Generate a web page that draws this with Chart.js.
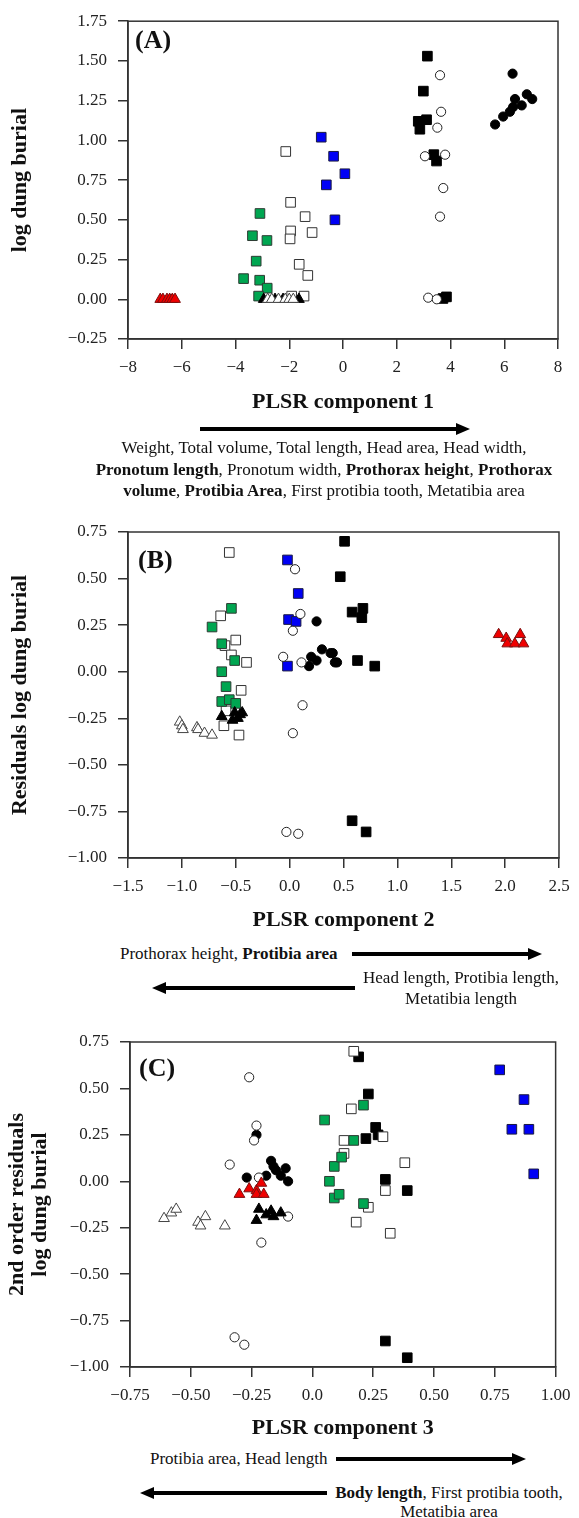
<!DOCTYPE html>
<html>
<head>
<meta charset="utf-8">
<script src="https://cdn.jsdelivr.net/npm/chart.js@4.4.1/dist/chart.umd.min.js"></script>
<style>
  body{margin:0;background:#fff;width:579px;height:1518px;position:relative;overflow:hidden;font-family:'Liberation Serif','Times New Roman',serif;color:#111}
  canvas{position:absolute;left:0}
  .t{position:absolute;font-size:17px;line-height:21.5px;white-space:nowrap}
  .lab{position:absolute;font-size:26px;font-weight:bold;line-height:30px;color:#111}
  svg{position:absolute;left:0;top:0}
</style>
</head>
<body>
<canvas id="cA" width="579" height="420" style="top:0"></canvas>
<canvas id="cB" width="579" height="440" style="top:500px"></canvas>
<canvas id="cC" width="579" height="440" style="top:1005px"></canvas>

<div class="lab" style="left:135px;top:25px">(A)</div>
<div class="lab" style="left:138px;top:545px">(B)</div>
<div class="lab" style="left:139px;top:1053px">(C)</div>

<div class="t" style="left:64px;width:520px;top:437px;text-align:center">
Weight, Total volume, Total length, Head area, Head width,<br>
<b>Pronotum length</b>, Pronotum width, <b>Prothorax height</b>, <b>Prothorax</b><br>
<b>volume</b>, <b>Protibia Area</b>, First protibia tooth, Metatibia area
</div>

<div class="t" style="left:120px;top:943px">Prothorax height, <b>Protibia area</b></div>
<div class="t" style="left:341px;width:240px;top:967px;line-height:21px;text-align:center">Head length, Protibia length,<br>Metatibia length</div>

<div class="t" style="left:150px;top:1448px">Protibia area, Head length</div>
<div class="t" style="left:329px;width:240px;top:1483px;line-height:19px;text-align:center"><b>Body length</b>, First protibia tooth,<br>Metatibia area</div>

<svg id="arrows" width="579" height="1518"></svg>

<script>
// ---- data: [x, y] pairs ----
// panel A: PLSR component 1 vs log dung burial
const A_blackSquares = [[3.14,1.53],[2.99,1.31],[2.80,1.12],[3.11,1.13],[2.86,1.07],[3.38,0.91],[3.48,0.87],[3.85,0.015],[3.72,0.005]];
const A_openSquares  = [[-2.13,0.93],[-1.95,0.61],[-1.41,0.52],[-1.95,0.43],[-1.15,0.42],[-1.97,0.38],[-1.63,0.22],[-1.31,0.15],[-1.91,0.02],[-1.45,0.02]];
const A_greenSquares = [[-3.09,0.54],[-3.37,0.40],[-2.83,0.37],[-3.23,0.24],[-3.70,0.13],[-3.10,0.12],[-2.82,0.07],[-3.14,0.02]];
const A_blueSquares  = [[-0.81,1.02],[-0.35,0.90],[-0.62,0.72],[0.07,0.79],[-0.30,0.50]];
const A_blackCircles = [[6.31,1.42],[5.66,1.10],[5.96,1.15],[6.21,1.18],[6.33,1.21],[6.40,1.26],[6.65,1.22],[6.84,1.29],[7.04,1.26]];
const A_openCircles  = [[3.61,1.41],[3.65,1.18],[3.51,1.08],[3.05,0.90],[3.80,0.91],[3.73,0.70],[3.61,0.52],[3.17,0.01],[3.49,0.0]];
const A_redTriangles = [[-6.8,0],[-6.7,0],[-6.55,0],[-6.45,0],[-6.35,0],[-6.25,0]];
const A_blackTriangles = [[-2.95,0],[-2.53,0],[-2.23,0],[-1.64,0]];
const A_openTriangles  = [[-2.8,0],[-2.65,0],[-2.4,0],[-2.15,0],[-2.0,0],[-1.85,0]];

// panel B: PLSR component 2 vs residuals
const B_blackSquares = [[0.51,0.70],[0.47,0.51],[0.58,0.32],[0.68,0.34],[0.67,0.29],[0.63,0.06],[0.79,0.03],[0.58,-0.80],[0.71,-0.86]];
const B_openSquares  = [[-0.56,0.64],[-0.64,0.30],[-0.60,0.14],[-0.50,0.17],[-0.54,0.09],[-0.40,0.05],[-0.45,-0.10],[-0.59,-0.21],[-0.61,-0.29],[-0.47,-0.34]];
const B_greenSquares = [[-0.54,0.34],[-0.72,0.24],[-0.63,0.15],[-0.51,0.06],[-0.63,0.00],[-0.59,-0.08],[-0.63,-0.16],[-0.56,-0.15],[-0.50,-0.17]];
const B_blueSquares  = [[-0.02,0.60],[0.08,0.42],[-0.01,0.28],[0.06,0.27],[-0.02,0.03]];
const B_blackCircles = [[0.25,0.27],[0.20,0.08],[0.30,0.12],[0.38,0.10],[0.42,0.05],[0.18,0.03],[0.25,0.06],[0.44,0.05],[0.40,0.10]];
const B_openCircles  = [[0.05,0.55],[0.10,0.31],[0.03,0.22],[-0.06,0.08],[0.11,0.05],[0.12,-0.18],[0.03,-0.33],[-0.03,-0.86],[0.08,-0.87]];
const B_redTriangles = [[1.94,0.20],[2.01,0.18],[2.02,0.15],[2.09,0.15],[2.14,0.20],[2.17,0.15]];
const B_blackTriangles = [[-0.63,-0.24],[-0.51,-0.22],[-0.44,-0.22],[-0.53,-0.26],[-0.48,-0.25],[-0.46,-0.23]];
const B_openTriangles  = [[-1.02,-0.27],[-1.00,-0.29],[-0.99,-0.31],[-0.86,-0.30],[-0.85,-0.31],[-0.79,-0.33],[-0.72,-0.34]];

// panel C: PLSR component 3 vs 2nd order residuals
const C_blackSquares = [[0.19,0.67],[0.23,0.47],[0.26,0.29],[0.27,0.25],[0.22,0.23],[0.30,0.01],[0.39,-0.05],[0.30,-0.86],[0.39,-0.95]];
const C_openSquares  = [[0.17,0.70],[0.16,0.39],[0.13,0.22],[0.13,0.15],[0.29,0.24],[0.38,0.10],[0.30,-0.05],[0.23,-0.14],[0.18,-0.22],[0.32,-0.28]];
const C_greenSquares = [[0.05,0.33],[0.07,0.00],[0.09,0.08],[0.09,-0.09],[0.11,-0.07],[0.12,0.13],[0.17,0.22],[0.21,0.41],[0.21,-0.12]];
const C_blueSquares  = [[0.77,0.60],[0.87,0.44],[0.82,0.28],[0.89,0.28],[0.91,0.04]];
const C_blackCircles = [[-0.23,0.25],[-0.27,0.02],[-0.17,0.11],[-0.16,0.08],[-0.19,0.03],[-0.15,0.06],[-0.13,0.03],[-0.11,0.07],[-0.10,0.00]];
const C_openCircles  = [[-0.26,0.56],[-0.23,0.30],[-0.24,0.22],[-0.34,0.09],[-0.22,0.02],[-0.10,-0.19],[-0.21,-0.33],[-0.32,-0.84],[-0.28,-0.88]];
const C_redTriangles = [[-0.30,-0.07],[-0.26,-0.04],[-0.23,-0.05],[-0.21,-0.01],[-0.23,-0.07],[-0.20,-0.07]];
const C_blackTriangles = [[-0.22,-0.15],[-0.23,-0.21],[-0.17,-0.16],[-0.16,-0.19],[-0.13,-0.17],[-0.19,-0.18]];
const C_openTriangles  = [[-0.61,-0.20],[-0.58,-0.17],[-0.56,-0.15],[-0.47,-0.22],[-0.46,-0.24],[-0.44,-0.19],[-0.36,-0.24]];

// tick values and labels
const A_xTicks = [-8,-6,-4,-2,0,2,4,6,8];
const A_xLabels = ['\u22128','\u22126','\u22124','\u22122','0','2','4','6','8'];
const A_yTicks = [-0.25,0,0.25,0.5,0.75,1,1.25,1.5,1.75];
const A_yLabels = ['\u22120.25','0.00','0.25','0.50','0.75','1.00','1.25','1.50','1.75'];
const B_xTicks = [-1.5,-1,-0.5,0,0.5,1,1.5,2,2.5];
const B_xLabels = ['\u22121.5','\u22121.0','\u22120.5','0.0','0.5','1.0','1.5','2.0','2.5'];
const BC_yTicks = [-1,-0.75,-0.5,-0.25,0,0.25,0.5,0.75];
const BC_yLabels = ['\u22121.00','\u22120.75','\u22120.50','\u22120.25','0.00','0.25','0.50','0.75'];
const C_xTicks = [-0.75,-0.5,-0.25,0,0.25,0.5,0.75,1];
const C_xLabels = ['\u22120.75','\u22120.50','\u22120.25','0.0','0.25','0.50','0.75','1.00'];

// marker styles per group (first = drawn on top)
const groupStyles = [
  {key:'openTriangles',  style:'triangle', bg:'#fff',    bd:'#444', r:6.2},
  {key:'blackTriangles', style:'triangle', bg:'#000',    bd:'#000', r:6.2},
  {key:'redTriangles',   style:'triangle', bg:'#f00000', bd:'#7a1010', r:6.2},
  {key:'openCircles',    style:'circle',   bg:'#fff',    bd:'#222', r:4.6},
  {key:'blackCircles',   style:'circle',   bg:'#000',    bd:'#000', r:4.6},
  {key:'blueSquares',    style:'rect',     bg:'#0000f5', bd:'#1a1a40', r:6.8},
  {key:'greenSquares',   style:'rect',     bg:'#00a651', bd:'#2d3b33', r:6.8},
  {key:'openSquares',    style:'rect',     bg:'#fff',    bd:'#333', r:6.8},
  {key:'blackSquares',   style:'rect',     bg:'#000',    bd:'#000', r:6.8}
];

const serif = "'Liberation Serif','Times New Roman',serif";

const boxPlugin = {
  id:'box',
  beforeDatasetsDraw(c){
    const {ctx, chartArea:a} = c;
    ctx.save(); ctx.strokeStyle='#333'; ctx.lineWidth=1.5;
    ctx.strokeRect(a.left,a.top,a.right-a.left,a.bottom-a.top);
    ctx.restore();
  }
};

const makeChart = (id, data, p) => {
  const datasets = groupStyles.map(g=>({
    label:g.key,
    data:data[g.key].map(([x,y])=>({x,y})),
    pointStyle:g.style, pointRadius:g.r, pointHoverRadius:g.r,
    backgroundColor:g.bg, borderColor:g.bd, borderWidth:1
  }));
  const axisCommon = {
    type:'linear',
    border:{display:true,color:'#333',width:1.5},
    grid:{drawOnChartArea:false,drawTicks:true,tickLength:10,color:'#333',lineWidth:1.5}
  };
  return new Chart(document.getElementById(id), {
    type:'scatter',
    data:{datasets},
    options:{
      responsive:false, animation:false, events:[],
      layout:{padding:{top:p.top,right:p.right,left:0,bottom:0}},
      plugins:{legend:{display:false},tooltip:{enabled:false}},
      scales:{
        x:{...axisCommon, min:p.xTicks[0], max:p.xTicks[p.xTicks.length-1],
          afterBuildTicks:s=>{ s.ticks = p.xTicks.map(v=>({value:v})); },
          afterFit:s=>{ s.height = p.xH; },
          ticks:{padding:8.5,color:'#222',maxRotation:0,autoSkip:false,font:{family:serif,size:17},callback:(v,i)=>p.xLabels[i]},
          title:{display:true,text:p.xTitle,color:'#111',padding:{top:0,bottom:p.xTitlePad},font:{family:serif,size:22,weight:'bold'}}
        },
        y:{...axisCommon, min:p.yTicks[0], max:p.yTicks[p.yTicks.length-1],
          afterBuildTicks:s=>{ s.ticks = p.yTicks.map(v=>({value:v})); },
          afterFit:s=>{ s.width = p.yW; },
          ticks:{padding:11,color:'#222',autoSkip:false,font:{family:serif,size:17},callback:(v,i)=>p.yLabels[i]},
          title:{display:true,text:p.yTitle,color:'#111',padding:{top:p.yTitlePad,bottom:0},font:{family:serif,size:22,weight:'bold',lineHeight:p.yLH||1.2}}
        }
      }
    },
    plugins:[boxPlugin]
  });
};

makeChart('cA', {
  blackSquares:A_blackSquares, openSquares:A_openSquares, greenSquares:A_greenSquares, blueSquares:A_blueSquares,
  blackCircles:A_blackCircles, openCircles:A_openCircles, redTriangles:A_redTriangles,
  blackTriangles:A_blackTriangles, openTriangles:A_openTriangles
}, {top:13,right:21,xH:81,yW:128,xTitlePad:4.8,yTitlePad:6.8,
    xTicks:A_xTicks,xLabels:A_xLabels,yTicks:A_yTicks,yLabels:A_yLabels,
    xTitle:'PLSR component 1',yTitle:'log dung burial'});

makeChart('cB', {
  blackSquares:B_blackSquares, openSquares:B_openSquares, greenSquares:B_greenSquares, blueSquares:B_blueSquares,
  blackCircles:B_blackCircles, openCircles:B_openCircles, redTriangles:B_redTriangles,
  blackTriangles:B_blackTriangles, openTriangles:B_openTriangles
}, {top:32,right:20,xH:82,yW:128,xTitlePad:6.8,yTitlePad:6.8,
    xTicks:B_xTicks,xLabels:B_xLabels,yTicks:BC_yTicks,yLabels:BC_yLabels,
    xTitle:'PLSR component 2',yTitle:'Residuals log dung burial'});

makeChart('cC', {
  blackSquares:C_blackSquares, openSquares:C_openSquares, greenSquares:C_greenSquares, blueSquares:C_blueSquares,
  blackCircles:C_blackCircles, openCircles:C_openCircles, redTriangles:C_redTriangles,
  blackTriangles:C_blackTriangles, openTriangles:C_openTriangles
}, {top:37,right:19,xH:78,yW:130,xTitlePad:3.8,yTitlePad:5.5,yLH:1.05,
    xTicks:C_xTicks,xLabels:C_xLabels,yTicks:BC_yTicks,yLabels:BC_yLabels,
    xTitle:'PLSR component 3',yTitle:['2nd order residuals','log dung burial']});

// arrows under the axis titles
const svg = document.getElementById('arrows');
const arrow = (x1, x2, y) => {
  const dir = Math.sign(x2 - x1), head = 14, hw = 6;
  const ns = 'http://www.w3.org/2000/svg';
  const ln = document.createElementNS(ns,'line');
  ln.setAttribute('x1',x1); ln.setAttribute('x2',x2 - dir*head+dir); ln.setAttribute('y1',y); ln.setAttribute('y2',y);
  ln.setAttribute('stroke','#000'); ln.setAttribute('stroke-width',4);
  svg.appendChild(ln);
  const pg = document.createElementNS(ns,'polygon');
  pg.setAttribute('points',`${x2},${y} ${x2-dir*head},${y-hw} ${x2-dir*head},${y+hw}`);
  pg.setAttribute('fill','#000');
  svg.appendChild(pg);
};
arrow(200, 470, 429);
arrow(352, 542, 954);
arrow(355, 152, 988);
arrow(336, 526, 1459);
arrow(327, 140, 1493);
</script>
</body>
</html>
